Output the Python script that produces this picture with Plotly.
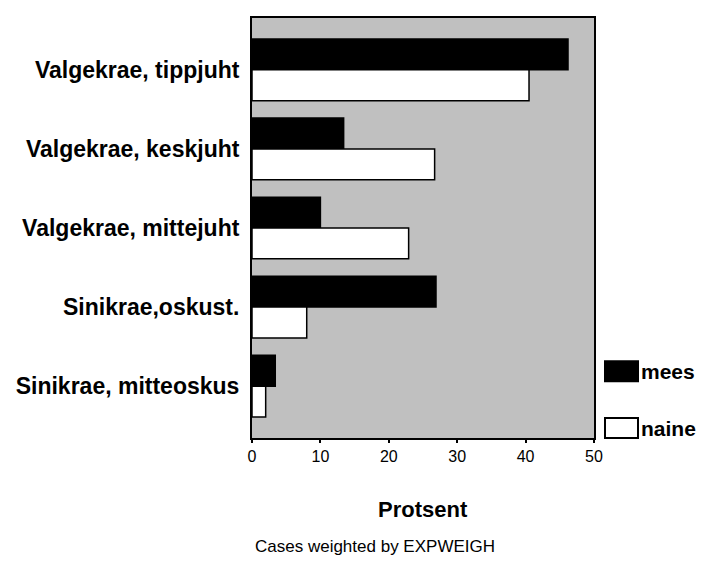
import plotly.graph_objects as go

categories = ["Valgekrae, tippjuht", "Valgekrae, keskjuht", "Valgekrae, mittejuht",
              "Sinikrae,oskust.", "Sinikrae, mitteoskus"]
mees = [46.2, 13.4, 10.0, 26.9, 3.4]
naine = [40.5, 26.7, 22.9, 8.0, 2.0]
x_ticks = [0, 10, 20, 30, 40, 50]

FONT = "Liberation Sans, Arial, sans-serif"

fig = go.Figure()
fig.add_trace(go.Bar(y=categories, x=mees, orientation="h", name="mees",
                     marker=dict(color="black", line=dict(color="black", width=1.5)),
                     showlegend=False))
fig.add_trace(go.Bar(y=categories, x=naine, orientation="h", name="naine",
                     marker=dict(color="white", line=dict(color="black", width=1.5)),
                     showlegend=False))

fig.update_layout(
    width=696, height=555,
    margin=dict(l=244, r=110, t=8, b=125),
    paper_bgcolor="white", plot_bgcolor="#c0c0c0",
    barmode="group", bargap=0.22, bargroupgap=0,
    font=dict(family=FONT, color="black"),
    xaxis=dict(range=[0, 50], tickvals=x_ticks, ticktext=[str(v) for v in x_ticks],
               showgrid=False, zeroline=False, showline=True, linecolor="black",
               linewidth=2, mirror=True, ticks="outside", ticklen=3, tickwidth=2,
               tickcolor="black", tickfont=dict(size=16)),
    yaxis=dict(categoryorder="array", categoryarray=categories,
               range=[4.655, -0.655], showgrid=False, zeroline=False,
               showline=True, linecolor="black", linewidth=2, mirror=True,
               ticks="", tickfont=dict(size=23), ticklabelstandoff=6,
               tickprefix="<b>", ticksuffix="</b>"),
)

# Axis title
fig.add_annotation(text="<b>Protsent</b>", xref="paper", yref="paper",
                   x=0.5, y=1 - (510 - 16) / 422, xanchor="center", yanchor="middle",
                   showarrow=False, font=dict(size=22))

# Footnote
fig.add_annotation(text="Cases weighted by EXPWEIGH", xref="paper", yref="paper",
                   x=(375 - 252) / 342, y=1 - (547 - 16) / 422,
                   xanchor="center", yanchor="middle",
                   showarrow=False, font=dict(size=17))

# Custom legend (swatches + labels)
legend_items = [("mees", "black", 371), ("naine", "white", 428)]
for name, col, ypix in legend_items:
    fig.add_shape(type="rect", xref="paper", yref="paper",
                  x0=(605 - 252) / 342, x1=(638 - 252) / 342,
                  y0=1 - (ypix - 16 + 10) / 422, y1=1 - (ypix - 16 - 10) / 422,
                  fillcolor=col, line=dict(color="black", width=2))
    fig.add_annotation(text=f"<b>{name}</b>", xref="paper", yref="paper",
                       x=(639 - 252) / 342, y=1 - (ypix - 16) / 422,
                       xanchor="left", yanchor="middle", showarrow=False,
                       font=dict(size=21))

fig.write_html("out.html")
